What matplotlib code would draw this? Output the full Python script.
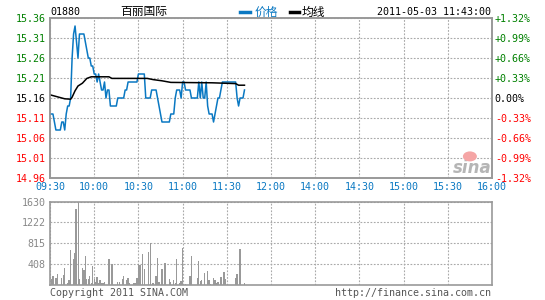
import matplotlib
matplotlib.use("Agg")
import matplotlib.pyplot as plt
from matplotlib.patches import Ellipse

# ---------------- data ----------------
stock_code = "01880"
stock_name = "百丽国际"
timestamp = "2011-05-03 11:43:00"
prev_close = 15.16

# price per minute from 09:30 (minute index 0) to 11:42
price = [15.12, 15.12, 15.12, 15.10, 15.08, 15.08, 15.08, 15.08, 15.10, 15.10,
         15.08, 15.12, 15.14, 15.14, 15.16, 15.26, 15.32, 15.34, 15.30, 15.26,
         15.32, 15.32, 15.32, 15.32, 15.30, 15.28, 15.26, 15.26, 15.24, 15.24,
         15.22, 15.22, 15.20, 15.22, 15.20, 15.18, 15.18, 15.20, 15.16, 15.18,
         15.18, 15.14, 15.14, 15.14, 15.14, 15.14, 15.16, 15.16, 15.16, 15.16,
         15.16, 15.18, 15.18, 15.20, 15.20, 15.20, 15.20, 15.20, 15.20, 15.20,
         15.22, 15.22, 15.22, 15.22, 15.22, 15.16, 15.16, 15.16, 15.16, 15.18,
         15.18, 15.18, 15.18, 15.16, 15.14, 15.12, 15.10, 15.10, 15.10, 15.10,
         15.10, 15.10, 15.12, 15.12, 15.12, 15.16, 15.18, 15.18, 15.18, 15.16,
         15.20, 15.20, 15.18, 15.18, 15.18, 15.18, 15.16, 15.16, 15.16, 15.16,
         15.16, 15.20, 15.16, 15.20, 15.16, 15.16, 15.20, 15.14, 15.12, 15.12,
         15.12, 15.10, 15.12, 15.14, 15.16, 15.16, 15.18, 15.20, 15.20, 15.20,
         15.20, 15.20, 15.20, 15.20, 15.20, 15.20, 15.20, 15.16, 15.14, 15.16,
         15.16, 15.16, 15.18]

# average-price line (read at breakpoints)
avg_minutes = [0, 10, 14, 15, 17, 19, 22, 25, 28, 40, 42, 66, 70, 76, 82, 110, 126, 128, 132]
avg_values = [15.168, 15.158, 15.157, 15.162, 15.178, 15.190, 15.197, 15.209, 15.213, 15.213,
              15.209, 15.209, 15.206, 15.203, 15.199, 15.198, 15.196, 15.192, 15.192]

# volume bars
vol_minutes = [1, 2, 4, 5, 8, 9, 10, 12, 13, 14, 16, 17, 17.6, 18, 19.2, 20, 22, 23, 24, 25,
               26, 27, 28, 29, 30, 31, 32, 33, 34, 35, 36, 37, 40, 42, 46, 47, 49, 50, 52, 53,
               54, 57, 58, 59, 60, 61, 63, 64, 67, 68, 70, 72, 73, 74, 76, 78, 81, 82, 84, 85,
               86, 88, 89, 90, 92, 95, 96, 100, 101, 102, 103, 105, 107, 108, 109, 111, 112,
               113, 114, 116, 118, 119, 126, 127, 129, 132]
vol_values = [110, 175, 142, 220, 142, 194, 336, 45, 90, 692, 498, 628, 1488, 414, 1630, 110,
              336, 285, 563, 110, 110, 175, 45, 369, 110, 65, 155, 45, 104, 40, 45, 65, 498,
              401, 65, 65, 110, 175, 90, 142, 40, 45, 45, 142, 414, 400, 608, 304, 647, 815,
              45, 175, 530, 65, 304, 433, 110, 65, 90, 45, 511, 45, 78, 725, 26, 181, 569,
              142, 466, 78, 90, 239, 272, 104, 26, 142, 90, 45, 65, 162, 259, 110, 130, 207,
              712, 45]

time_ticks = [0, 30, 60, 90, 120, 150, 180, 210, 240, 270, 300]
time_labels = ["09:30", "10:00", "10:30", "11:00", "11:30", "12:00",
               "14:00", "14:30", "15:00", "15:30", "16:00"]
price_ticks = [15.36, 15.31, 15.26, 15.21, 15.16, 15.11, 15.06, 15.01, 14.96]
pct_labels = ["+1.32%", "+0.99%", "+0.66%", "+0.33%", "0.00%",
              "-0.33%", "-0.66%", "-0.99%", "-1.32%"]
vol_ticks = [408, 815, 1222, 1630]

# ---------------- style ----------------
W, H = 545, 300
MONO = "DejaVu Sans Mono"
CJK = ["Noto Sans CJK SC", "DejaVu Sans"]
BLUE = "#0a78c2"
GREEN = "#008000"
RED = "#ff0000"
GRID = "#aaaaaa"
SPINE = "#999999"
FS = 7.2

def col_for(v, ref):
    if abs(v - ref) < 1e-9:
        return "black"
    return GREEN if v > ref else RED

fig = plt.figure(figsize=(W / 100, H / 100), dpi=100)
fig.patch.set_facecolor("white")

ax = fig.add_axes([50 / W, 1 - 178 / H, 442 / W, 160 / H])
axv = fig.add_axes([50 / W, 1 - 285 / H, 442 / W, 83.5 / H])

grid_style = dict(color=GRID, linestyle=(0, (1.6, 1.4)), linewidth=0.8)

# main price panel
ax.set_xlim(0, 300)
ax.set_ylim(14.96, 15.36)
ax.set_xticks(time_ticks)
ax.set_xticklabels(time_labels, fontfamily=MONO, fontsize=FS, color=BLUE)
ax.set_yticks(price_ticks)
ax.set_yticklabels([f"{v:.2f}" for v in price_ticks], fontfamily=MONO, fontsize=FS)
for lbl, v in zip(ax.get_yticklabels(), price_ticks):
    lbl.set_color(col_for(v, prev_close))
ax.tick_params(length=0, pad=3)
ax.grid(True, **grid_style)
ax.set_axisbelow(True)
for s in ax.spines.values():
    s.set_color(SPINE)
    s.set_linewidth(1.2)

ax.plot(range(len(price)), price, color=BLUE, linewidth=1.1, zorder=3)
ax.plot(avg_minutes, avg_values, color="black", linewidth=1.1, zorder=4)

ax2 = ax.twinx()
ax2.set_ylim(14.96, 15.36)
ax2.set_yticks(price_ticks)
ax2.set_yticklabels(pct_labels, fontfamily=MONO, fontsize=FS)
for lbl, v in zip(ax2.get_yticklabels(), price_ticks):
    lbl.set_color(col_for(v, prev_close))
ax2.tick_params(length=0, pad=2)
for s in ax2.spines.values():
    s.set_color(SPINE)
    s.set_linewidth(1.2)

# sina watermark
ax.text(0.955, 0.065, "sina", transform=ax.transAxes, ha="center", va="center",
        fontsize=12, fontweight="bold", fontstyle="italic", color="#b5b5b5", zorder=2)
ax.add_patch(Ellipse((0.95, 0.135), 14 / 442, 10 / 160, transform=ax.transAxes,
                     facecolor="#f5a5a5", edgecolor="none", zorder=2))

# volume panel
axv.set_xlim(0, 300)
axv.set_ylim(0, 1630)
axv.set_xticks(time_ticks)
axv.set_xticklabels([])
axv.set_yticks(vol_ticks)
axv.set_yticklabels([str(v) for v in vol_ticks], fontfamily=MONO, fontsize=FS, color="#888888")
axv.tick_params(length=0, pad=3)
axv.grid(True, **grid_style)
axv.set_axisbelow(True)
for s in axv.spines.values():
    s.set_color(SPINE)
    s.set_linewidth(1.2)
axv.bar(vol_minutes, vol_values, width=0.9, color="#999999", zorder=3)

# header
ty = 1 - 12 / H
fig.text(50 / W, ty, stock_code, fontfamily=MONO, fontsize=FS, color="black", va="center")
fig.text(120 / W, ty, stock_name, family=CJK, fontsize=8.5, color="black", va="center")
fig.add_artist(plt.Line2D([240 / W, 250 / W], [ty, ty], color=BLUE, linewidth=2.5,
                          transform=fig.transFigure))
fig.text(255 / W, ty, "价格", family=CJK, fontsize=8.5, color=BLUE, va="center")
fig.add_artist(plt.Line2D([290 / W, 299 / W], [ty, ty], color="black", linewidth=2.5,
                          transform=fig.transFigure))
fig.text(302 / W, ty, "均线", family=CJK, fontsize=8.5, color="black", va="center")
fig.text(491 / W, ty, timestamp, fontfamily=MONO, fontsize=FS, color="black",
         va="center", ha="right")

# footer
fy = 1 - 293 / H
fig.text(50 / W, fy, "Copyright 2011 SINA.COM", fontfamily=MONO, fontsize=FS,
         color="#555555", va="center")
fig.text(491 / W, fy, "http://finance.sina.com.cn", fontfamily=MONO, fontsize=FS,
         color="#555555", va="center", ha="right")

fig.savefig("out.png", dpi=100, facecolor="white")
